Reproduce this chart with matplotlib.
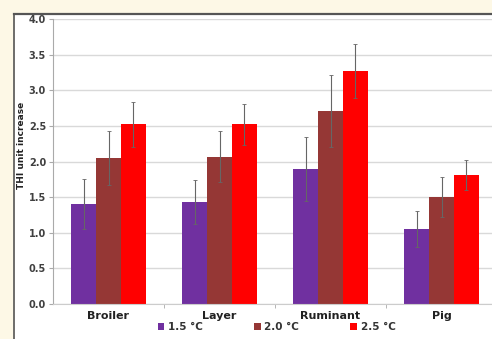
import matplotlib.pyplot as plt
import matplotlib.patches as mpatches
from matplotlib.lines import Line2D
import numpy as np

# data
categories = ["Broiler", "Layer", "Ruminant", "Pig"]
series = ["1.5 °C", "2.0 °C", "2.5 °C"]
vals_15 = [1.40, 1.43, 1.89, 1.05]
vals_20 = [2.05, 2.07, 2.71, 1.50]
vals_25 = [2.52, 2.52, 3.27, 1.81]
err_15 = [0.35, 0.31, 0.45, 0.25]
err_20 = [0.38, 0.36, 0.51, 0.28]
err_25 = [0.31, 0.29, 0.38, 0.21]
yticks = [0.0, 0.5, 1.0, 1.5, 2.0, 2.5, 3.0, 3.5, 4.0]

colors = ["#7030A0", "#953735", "#FF0000"]

fig = plt.figure(figsize=(4.92, 3.39), dpi=100)
fig.patch.set_facecolor("#FDF8E6")
# white panel with dark frame on top/left
fig.patches.append(mpatches.Rectangle((15/492, 0), 1, 1 - 15/339, transform=fig.transFigure,
                                      facecolor="white", edgecolor="none", zorder=-10))
fig.lines.append(Line2D([14/492, 1], [1 - 14/339] * 2, transform=fig.transFigure, color="#555555", lw=1.6))
fig.lines.append(Line2D([14/492] * 2, [0, 1 - 14/339], transform=fig.transFigure, color="#555555", lw=1.2))

ax = fig.add_axes([53/492, 1 - 304/339, (497 - 53)/492, (304 - 19)/339])
ax.set_facecolor("none")

x = np.arange(len(categories))
w = 0.223
data = [(vals_15, err_15), (vals_20, err_20), (vals_25, err_25)]
for i, (v, e) in enumerate(data):
    ax.bar(x + (i - 1) * w, v, w, color=colors[i], label=series[i], zorder=2,
           yerr=e, error_kw=dict(ecolor="#666666", elinewidth=0.8, capsize=1.5, capthick=0.6))

ax.set_xlim(-0.5, 3.5)
ax.set_ylim(0, 4.0)
ax.set_yticks(yticks)
ax.set_yticklabels(["%.1f" % t for t in yticks], fontsize=7, fontweight="bold", color="#404040")
ax.set_xticks(x)
ax.set_xticklabels(categories, fontsize=8, fontweight="bold", color="#222222")
ax.set_xticks([0.5, 1.5, 2.5], minor=True)
ax.tick_params(axis="x", which="major", length=0, pad=5)
ax.tick_params(axis="x", which="minor", length=3, color="#aaaaaa")
ax.tick_params(axis="y", length=3, color="#aaaaaa", pad=2)
ax.yaxis.grid(True, color="#d9d9d9", lw=1.0, zorder=0)
ax.set_axisbelow(True)
for s in ["top", "right"]:
    ax.spines[s].set_visible(False)
ax.spines["left"].set_color("#aaaaaa")
ax.spines["bottom"].set_color("#cccccc")

fig.text(0.043, 0.57, "THI unit increase", rotation=90, fontsize=6.5, fontweight="bold",
         ha="center", va="center", color="#222222")

leg = fig.legend(loc="center", bbox_to_anchor=(0.562, 0.036), ncol=3, frameon=False,
                 handlelength=0.65, handleheight=0.65, handletextpad=0.35, columnspacing=4.9,
                 prop=dict(size=7.5, weight="bold"))
for t in leg.get_texts():
    t.set_color("#333333")

fig.savefig("out.png", dpi=100, facecolor=fig.get_facecolor())
